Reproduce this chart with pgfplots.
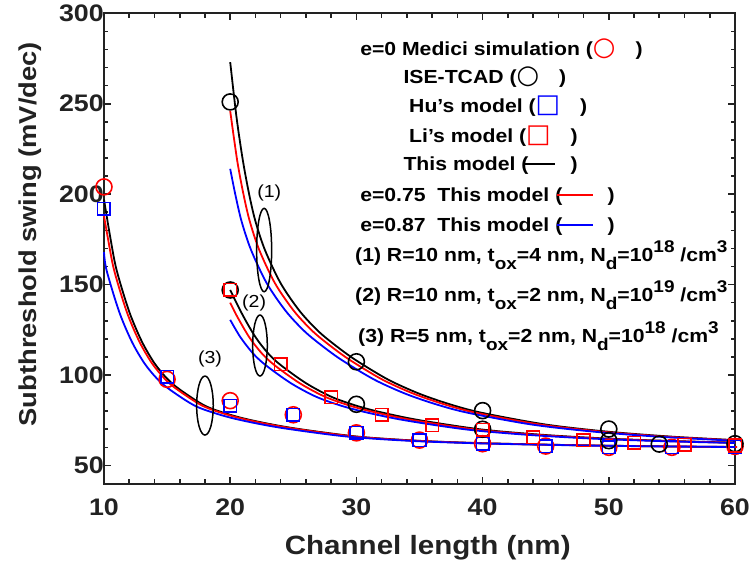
\documentclass[border=0pt]{standalone}
\usepackage{fontspec}
\setmainfont{Liberation Sans}[FakeStretch=1.12]
\newfontfamily\symf{DejaVu Sans}
\usepackage{pgfplots}
\pgfplotsset{compat=1.18}
\definecolor{axgray}{RGB}{34,34,34}
\newcommand{\sub}[1]{\raisebox{-0.42em}{\fontsize{17}{17}\selectfont #1}}
\newcommand{\sups}[1]{\raisebox{0.5em}{\fontsize{17}{17}\selectfont #1}}
\newcommand{\gl}[1]{{\symf\bfseries\fontsize{26}{26}\selectfont #1}}
\begin{document}
\begin{tikzpicture}
\useasboundingbox (-104bp,-80.5bp) rectangle (650bp,483.5bp);
\begin{axis}[
  at={(0,0)}, anchor=south west,
  scale only axis, width=631bp, height=470.2bp,
  xmin=10, xmax=60, ymin=40, ymax=300,
  xtick={10,20,30,40,50,60}, ytick={50,100,150,200,250,300},
  minor x tick num=4, minor y tick num=4,
  tick align=inside, tick pos=both,
  major tick length=6.7bp, minor tick length=4.3bp,
  axis line style={line width=2bp, color=axgray},
  every tick/.style={line width=1.6bp, color=axgray},
  /pgf/number format/assume math mode=true,
  tick label style={font=\bfseries\fontsize{24}{24}\selectfont, color=axgray},
  xticklabel style={yshift=-12bp},
  yticklabel style={xshift=3.3bp},
  xlabel={Channel length (nm)},
  ylabel={Subthreshold swing (mV/dec)},
  xlabel style={font=\bfseries\fontsize{26.5}{26.5}\selectfont, color=axgray, at={(axis description cs:0.513,-0.137)}, anchor=center},
  ylabel style={font=\bfseries\fontsize{24.5}{24.5}\selectfont, color=axgray, at={(axis description cs:-0.1173,0.53)}, anchor=center},
  clip=false,
]
% ---------- group (1) ----------
\addplot[black, line width=1.8bp, smooth, tension=0.5] coordinates {
(20,273)(20.5,242.6)(21,218.8)(21.5,200)(22,185)(22.76,169)(24,150.7)(25.5,135.4)(27,124.1)(28.5,115.5)(30,108)(32.5,97.5)(35,89.6)(37.5,83.6)(40,79)(45,72.6)(50,68.6)(55,65.9)(60,64)};
\addplot[red, line width=1.8bp, smooth, tension=0.5] coordinates {
(20,246)(20.55,218.8)(21.05,200)(21.55,185)(22.31,169)(23.55,150.7)(25.05,135.4)(26.55,124.1)(28.05,115.5)(29.55,108)(32.05,97.5)(34.55,89.6)(37.05,83.6)(39.55,79)(44.55,72.6)(49.55,68.6)(54.55,65.9)(59.55,64)(60,63.8)};
\addplot[blue, line width=1.8bp, smooth, tension=0.5] coordinates {
(20,214)(20.4,200)(20.9,185)(21.66,169)(22.9,150.7)(24.4,135.4)(25.9,124.1)(27.4,115.5)(28.9,108)(31.4,97.5)(33.9,89.6)(36.4,83.6)(38.9,79)(43.9,72.6)(48.9,68.6)(53.9,65.9)(58.9,64)(60,63.5)};
% ---------- group (2) ----------
\addplot[black, line width=1.8bp, smooth, tension=0.5] coordinates {
(20,147)(21,133)(22,121)(23,112)(24,105.5)(26,95.5)(28,88)(30,83)(32,79.3)(35,75)(40,69.8)(45,66.8)(50,64.8)(55,63.5)(60,62.6)};
\addplot[red, line width=1.8bp, smooth, tension=0.5] coordinates {
(20,140)(20.5,133)(21.5,121)(22.5,112)(23.5,105.5)(25.5,95.5)(27.5,88)(29.5,83)(31.5,79.3)(34.5,75)(39.5,69.8)(44.5,66.8)(49.5,64.8)(54.5,63.5)(59.5,62.6)(60,62.5)};
\addplot[blue, line width=1.8bp, smooth, tension=0.5] coordinates {
(20,130.5)(20.8,121)(21.8,112)(22.8,105.5)(24.8,95.5)(26.8,88)(28.8,83)(30.8,79.3)(33.8,75)(38.8,69.8)(43.8,66.8)(48.8,64.8)(53.8,63.5)(58.8,62.6)(60,62.4)};
% ---------- group (3) ----------
\addplot[black, line width=1.8bp, smooth, tension=0.5] coordinates {
(10,197)(10.5,176)(11,158)(12,135)(13,118.5)(14,106.5)(15,98)(16,92)(18,83)(20,78)(22,74.5)(25,70.6)(30,66)(35,63.6)(40,62.3)(45,61.5)(50,60.9)(55,60.5)(60,60.2)};
\addplot[red, line width=1.8bp, smooth, tension=0.5] coordinates {
(10,188)(10.3,176)(10.8,158)(11.8,135)(12.8,118.5)(13.8,106.5)(14.8,98)(15.8,92)(17.8,83)(19.8,78)(21.8,74.5)(24.8,70.6)(29.8,66)(34.8,63.6)(39.8,62.3)(44.8,61.5)(49.8,60.9)(54.8,60.5)(59.8,60.2)(60,60.2)};
\addplot[blue, line width=1.8bp, smooth, tension=0.5] coordinates {
(10,168)(10.2,158)(11.2,135)(12.2,118.5)(13.2,106.5)(14.2,98)(15.2,92)(17.2,83)(19.2,78)(21.2,74.5)(24.2,70.6)(29.2,66)(34.2,63.6)(39.2,62.3)(44.2,61.5)(49.2,60.9)(54.2,60.5)(59.2,60.2)(60,60.1)};
% ---------- markers ----------
% Medici simulation (red circles)
\addplot[only marks, mark=o, mark size=8bp, red, mark options={line width=1.6bp}] coordinates {
(10,204)(15,97.6)(20,85.8)(25,78)(30,68)(35,64)(40,62)(45,60.7)(50,60)(55,60)(60,60.5)};
% Hu's model (blue squares)
\addplot[only marks, mark=square, mark size=6.3bp, blue, mark options={line width=1.6bp}] coordinates {
(10,192)(15,99)(20,82.9)(25,78)(30,68)(35,64)(40,62)(45,60.7)(50,60)(55,60)(60,60.3)};
% ISE-TCAD (black circles)
\addplot[only marks, mark=o, mark size=8bp, black, mark options={line width=1.6bp}] coordinates {
(20,251)(30,107.3)(40,80.3)(50,70.1)(20,147)(30,83.8)(40,70)(50,63.7)(54,61.8)(60,62)};
% Li's model (red squares)
\addplot[only marks, mark=square, mark size=6.3bp, red, mark options={line width=1.6bp}] coordinates {
(20,147)(24,106)(28,87.8)(32,77.9)(36,72.2)(40,69.6)(44,65.6)(48,64)(52,62.6)(56,61.3)(60,61)};
% ---------- ellipses and group labels ----------
\draw[black, line width=1.5bp] (axis cs:22.69,169.1) ellipse [x radius=7.5bp, y radius=41.7bp];
\draw[black, line width=1.5bp] (axis cs:22.36,116.3) ellipse [x radius=7.3bp, y radius=30.5bp];
\draw[black, line width=1.5bp] (axis cs:18.0,83.1) ellipse [x radius=8.3bp, y radius=29.5bp];
\node[font=\fontsize{17.5}{17.5}\selectfont] at (axis cs:23.1,200.4) {(1)};
\node[font=\fontsize{17.5}{17.5}\selectfont] at (axis cs:21.9,139.6) {(2)};
\node[font=\fontsize{17.5}{17.5}\selectfont] at (axis cs:18.4,108.7) {(3)};
% ---------- legend text ----------
\begin{scope}[every node/.style={anchor=base west, inner sep=0pt, font=\bfseries\fontsize{19}{19}\selectfont}]
\node at (axis cs:30.29,276.5) {e=0 Medici simulation (\gl{\color{red}○}\hspace{20bp})};
\node at (axis cs:33.72,261.0) {ISE-TCAD (\gl{○}\hspace{20bp})};
\node at (axis cs:34.17,244.9) {Hu's model (\gl{\color{blue}□}\hspace{20bp})};
\node at (axis cs:34.17,228.4) {Li's model (\gl{\color{red}□}\hspace{20bp})};
\node at (axis cs:33.72,212.9) {This model (\kern-0.3em\rule[0.32em]{32bp}{1.6bp}\hspace{16bp})};
\node at (axis cs:30.29,195.7) {e=0.75\ \ This model (\kern-0.3em{\color{red}\rule[0.32em]{36bp}{1.6bp}}\hspace{15bp})};
\node at (axis cs:30.29,179.1) {e=0.87\ \ This model (\kern-0.3em{\color{blue}\rule[0.32em]{36bp}{1.6bp}}\hspace{15bp})};
\node at (axis cs:29.89,162.6) {(1) R=10 nm, t\sub{ox}=4 nm, N\sub{d}=10\sups{18} /cm\sups{3}};
\node at (axis cs:29.89,140.4) {(2) R=10 nm, t\sub{ox}=2 nm, N\sub{d}=10\sups{19} /cm\sups{3}};
\node at (axis cs:30.13,117.8) {(3) R=5 nm, t\sub{ox}=2 nm, N\sub{d}=10\sups{18} /cm\sups{3}};
\end{scope}
\end{axis}
\end{tikzpicture}
\end{document}
